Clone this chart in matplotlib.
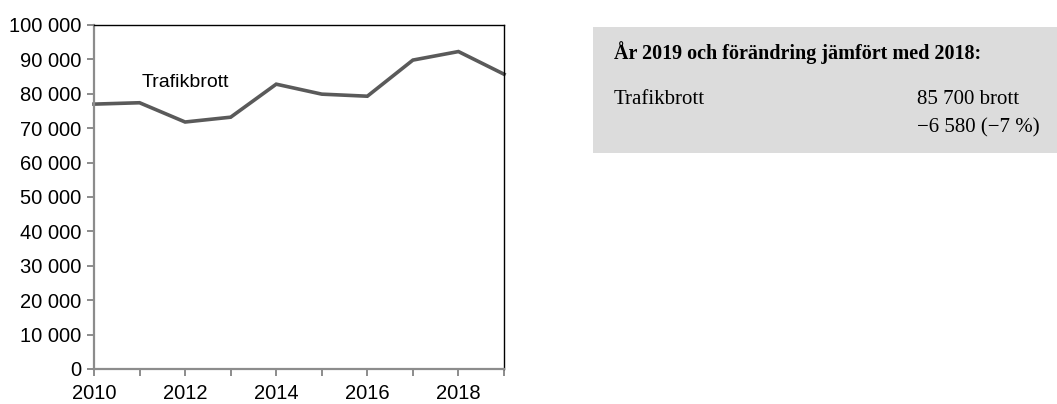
import matplotlib
matplotlib.use("Agg")
import matplotlib.pyplot as plt
from matplotlib.patches import Rectangle
from matplotlib.ticker import FuncFormatter

years = [2010, 2011, 2012, 2013, 2014, 2015, 2016, 2017, 2018, 2019]
trafikbrott = [77000, 77400, 71800, 73200, 82800, 79900, 79300, 89800, 92280, 85700]
series_label = "Trafikbrott"
yticks = list(range(0, 100001, 10000))
xticklabels_years = [2010, 2012, 2014, 2016, 2018]

box_title = "År 2019 och förändring jämfört med 2018:"
box_row_label = "Trafikbrott"
box_value = "85 700 brott"
box_change = "\u22126 580 (\u22127 %)"

W, H = 1057, 404
fig = plt.figure(figsize=(W / 100, H / 100), dpi=100)
ax = fig.add_axes([94 / W, 1 - 369 / H, (504 - 94) / W, (369 - 25) / H])

ax.plot(years, trafikbrott, color="#5a5a5a", lw=2.6, solid_joinstyle="miter", clip_on=False)
ax.set_xlim(2010, 2019)
ax.set_ylim(0, 100000)
ax.set_yticks(yticks)
ax.yaxis.set_major_formatter(FuncFormatter(lambda v, p: f"{int(v):,}".replace(",", " ")))
ax.set_xticks(years)
ax.set_xticklabels([str(y) if y in xticklabels_years else "" for y in years])

for s in ("left", "bottom"):
    ax.spines[s].set_color("#8c8c8c")
    ax.spines[s].set_linewidth(1.6)
for s in ("top", "right"):
    ax.spines[s].set_color("black")
    ax.spines[s].set_linewidth(1.0)
ax.tick_params(axis="both", colors="#8c8c8c", labelcolor="black", length=5, width=1.4,
               labelsize=14.5)
for lab in ax.get_xticklabels() + ax.get_yticklabels():
    lab.set_fontfamily("Liberation Sans")
ax.tick_params(axis="y", pad=4)
ax.tick_params(axis="x", pad=6)

ax.text(2012.0, 83400, series_label, fontsize=14, family="Liberation Sans",
        ha="center", va="center")

# summary box
fig.patches.append(Rectangle((593 / W, 1 - 153 / H), (W - 593) / W, (153 - 27) / H,
                             transform=fig.transFigure, facecolor="#dcdcdc",
                             edgecolor="none"))
serif = ["Liberation Serif", "DejaVu Serif"]
fig.text(614 / W, 1 - 53 / H, box_title, fontsize=14.5, fontweight="bold",
         family=serif, va="center", ha="left")
fig.text(614 / W, 1 - 100 / H, box_row_label, fontsize=15, family=serif,
         va="center", ha="left")
fig.text(917 / W, 1 - 100 / H, box_value, fontsize=15, family=serif,
         va="center", ha="left")
fig.text(917 / W, 1 - 128 / H, box_change, fontsize=15, family=serif,
         va="center", ha="left")

fig.savefig("out.png", dpi=100)
